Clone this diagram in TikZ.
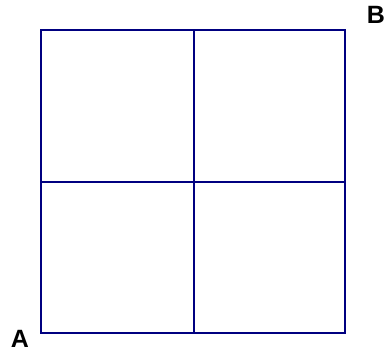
\documentclass[tikz,border=0pt]{standalone}
\usepackage{fontspec}
\setmainfont{Liberation Sans}
\usepackage{xcolor}
\usetikzlibrary{positioning}
\definecolor{gridline}{RGB}{0,0,128}

\begin{document}
\begin{tikzpicture}[x=1pt, y=1pt,
    cell/.style={draw=gridline, line width=2pt},
    corner/.style={font=\fontsize{25}{25}\selectfont\bfseries, inner sep=0pt}]

  % Bounding box
  \useasboundingbox (0,0) rectangle (388,352);

  % Grid corners
  \coordinate (sw) at (41,19);
  \coordinate (ne) at (345,322);

  % Four cells
  \draw[cell] (sw) rectangle (ne);
  \draw[cell] (194,19) -- (194,322);
  \draw[cell] (41,170) -- (345,170);

  % Corner labels
  \node[corner] (labA) at (20,13) {A};
  \node[corner] (labB) at (376,337) {B};

\end{tikzpicture}
\end{document}
